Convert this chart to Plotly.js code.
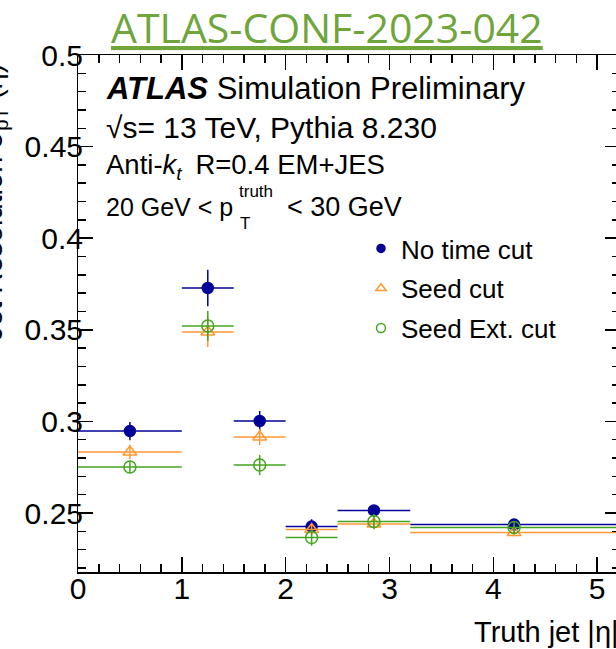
<!DOCTYPE html>
<html>
<head>
<meta charset="utf-8">
<script src="https://cdn.plot.ly/plotly-3.0.1.min.js"></script>
<style>
html,body{margin:0;padding:0;overflow:hidden;background:#fff;width:616px;height:649px;}
#chart{width:620px;height:649px;}
</style>
</head>
<body>
<div id="chart"></div>
<script>
// ---- data ----
const binCenters    = [0.5, 1.25, 1.75, 2.25, 2.85, 4.2];
const binHalfWidths = [0.5, 0.25, 0.25, 0.25, 0.35, 1.0];

const noTimeCut     = [0.2947, 0.3728, 0.3002, 0.2426, 0.2514, 0.2437];
const noTimeCutErr  = [0.0050, 0.0100, 0.0055, 0.0040, 0.0020, 0.0020];

const seedCut       = [0.2833, 0.3488, 0.2915, 0.2410, 0.2440, 0.2393];
const seedCutErr    = [0.0040, 0.0082, 0.0045, 0.0030, 0.0030, 0.0020];

const seedExtCut    = [0.2751, 0.3521, 0.2762, 0.2366, 0.2454, 0.2421];
const seedExtCutErr = [0.0033, 0.0082, 0.0055, 0.0044, 0.0040, 0.0030];

const seriesNames = ["No time cut", "Seed cut", "Seed Ext. cut"];
const xTickVals = [0, 1, 2, 3, 4, 5];
const yTickVals = [0.25, 0.3, 0.35, 0.4, 0.45, 0.5];
const yTickText = ["0.25", "0.3", "0.35", "0.4", "0.45", "0.5"];

// ---- styling ----
const FONT = "Liberation Sans, Arial, Helvetica, sans-serif";
const BLUE = "#000099", ORANGE = "#ff9933", GREEN = "#44a41f";

const W = 620, H = 649;
const M = {l: 78, r: 0, t: 55, b: 77};
const plotW = W - M.l - M.r, plotH = H - M.t - M.b;
const px = x => (x - M.l) / plotW;          // pixel -> paper x
const py = y => (H - M.b - y) / plotH;      // pixel -> paper y

function dataTrace(y, err, name, color, symbol, size) {
  return {
    type: "scatter", mode: "markers", x: binCenters, y: y, name: name,
    showlegend: false, hoverinfo: "x+y",
    marker: {color: color, symbol: symbol, size: size, line: {color: color, width: 1.5}},
    error_x: {type: "data", array: binHalfWidths, symmetric: true, width: 0, thickness: 1.5, color: color},
    error_y: {type: "data", array: err, symmetric: true, width: 0, thickness: 1.5, color: color}
  };
}
function legendTrace(name, color, symbol, size, group) {
  return {
    type: "scatter", mode: "markers", x: [null], y: [null], name: name,
    xaxis: "x2", yaxis: "y2",
    legendgroup: group, showlegend: true,
    marker: {color: color, symbol: symbol, size: size, line: {color: color, width: 1.5}}
  };
}

const traces = [
  dataTrace(noTimeCut, noTimeCutErr, seriesNames[0], BLUE, "circle", 11),
  dataTrace(seedCut, seedCutErr, seriesNames[1], ORANGE, "triangle-up-open", 12),
  dataTrace(seedExtCut, seedExtCutErr, seriesNames[2], GREEN, "circle-open", 12),
  legendTrace(seriesNames[0], BLUE, "circle", 8, "a"),
  legendTrace(seriesNames[1], ORANGE, "triangle-up-open", 9, "b"),
  legendTrace(seriesNames[2], GREEN, "circle-open", 9, "c")
];

const axisCommon = {
  showline: true, linecolor: "#000", linewidth: 1.5, mirror: "allticks",
  ticks: "inside", tickwidth: 1.5, tickcolor: "#000", ticklen: 15,
  showgrid: false, zeroline: false, showticklabels: false
};
// label-only axes, placed a few pixels inside the frame so labels sit close to it
const labelAxisCommon = {
  showline: false, ticks: "", showgrid: false, zeroline: false, anchor: "free",
  showticklabels: true, tickfont: {family: FONT, size: 30, color: "#000"}
};

function txt(text, x, y, size, extra) {
  return Object.assign({text: text, xref: "paper", yref: "paper", x: px(x), y: py(y),
    xanchor: "left", yanchor: "middle", showarrow: false,
    font: {family: FONT, size: size, color: "#000"}}, extra || {});
}

const annotations = [
  {text: "ATLAS-CONF-2023-042", xref: "paper", yref: "paper", x: px(327), y: py(27),
   xanchor: "center", yanchor: "middle", showarrow: false,
   font: {family: "Open Sans, sans-serif", size: 41, color: "#6fa53a", lineposition: "under"}},
  txt("<b><i>ATLAS</i></b> Simulation Preliminary", 104, 88, 31),
  txt("√s= 13 TeV, Pythia 8.230", 104, 127, 30),
  txt("Anti-<i>k</i><sub><i>t</i></sub>\u2002R=0.4 EM+JES", 104, 167, 27.5),
  txt("20 GeV < p", 104, 207, 25),
  txt("truth", 237, 191, 17),
  txt("T", 238, 223, 17),
  txt("< 30 GeV", 285, 207, 27),
  txt("Truth jet |η|", 621, 632, 29, {xanchor: "right"}),
  txt("Jet Resolution σ<sub>pT</sub> (η)", 13, 62, 29, {xanchor: "right", yanchor: "top", textangle: -90})
];

const layout = {
  width: W, height: H, margin: M,
  paper_bgcolor: "#fff", plot_bgcolor: "#fff",
  showlegend: true,
  legend: {x: px(361), y: py(225), xanchor: "left", yanchor: "top",
           bgcolor: "rgba(0,0,0,0)", borderwidth: 0, tracegroupgap: 3,
           font: {family: FONT, size: 26, color: "#000"}},
  xaxis: Object.assign({}, axisCommon, {
    range: [0, 5.22], tickvals: xTickVals,
    minor: {dtick: 0.2, tick0: 0, ticks: "inside", ticklen: 8, tickwidth: 1.5, tickcolor: "#000"}
  }),
  yaxis: Object.assign({}, axisCommon, {
    range: [0.2178, 0.5], tickvals: yTickVals,
    minor: {dtick: 0.01, tick0: 0, ticks: "inside", ticklen: 8, tickwidth: 1.5, tickcolor: "#000"}
  }),
  xaxis2: Object.assign({}, labelAxisCommon, {
    overlaying: "x", matches: "x", side: "bottom", position: 4 / plotH,
    tickvals: xTickVals, ticktext: xTickVals.map(String)
  }),
  yaxis2: Object.assign({}, labelAxisCommon, {
    overlaying: "y", matches: "y", side: "left", position: 5 / plotW,
    tickvals: yTickVals, ticktext: yTickText
  }),
  annotations: annotations
};

Plotly.newPlot("chart", traces, layout, {displayModeBar: false, staticPlot: true});
</script>
</body>
</html>
